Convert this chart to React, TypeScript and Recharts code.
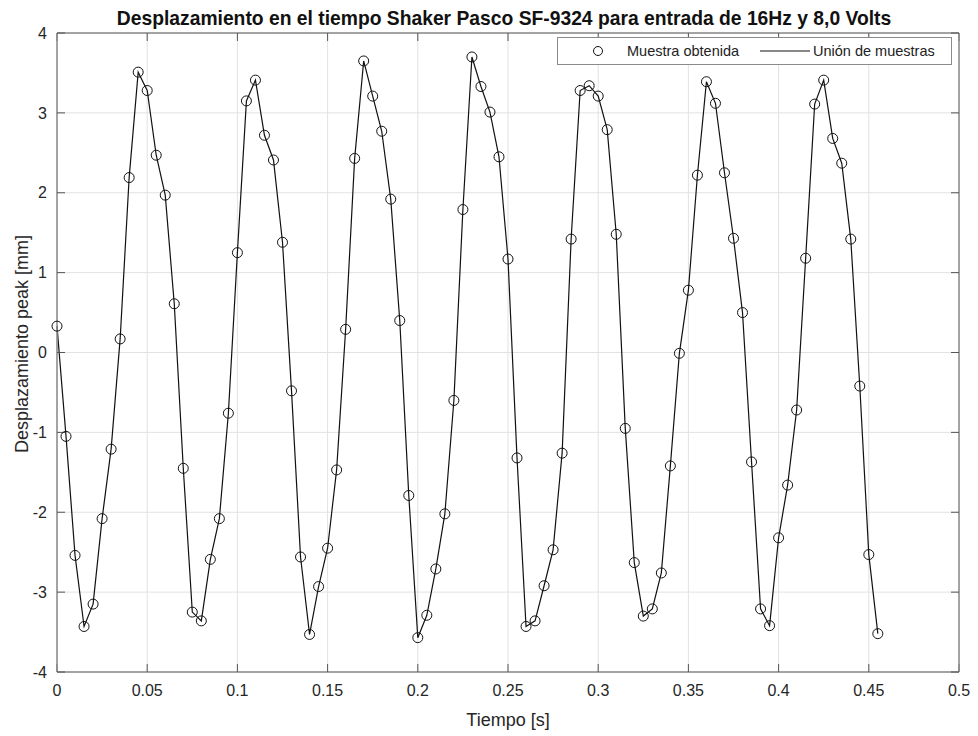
import { LineChart, Line, XAxis, YAxis, CartesianGrid } from 'recharts';

// tiempo de muestreo [s]
const tiempo = [
  0, 0.005, 0.01, 0.015, 0.02, 0.025, 0.03, 0.035, 0.04, 0.045,
  0.05, 0.055, 0.06, 0.065, 0.07, 0.075, 0.08, 0.085, 0.09, 0.095,
  0.1, 0.105, 0.11, 0.115, 0.12, 0.125, 0.13, 0.135, 0.14, 0.145,
  0.15, 0.155, 0.16, 0.165, 0.17, 0.175, 0.18, 0.185, 0.19, 0.195,
  0.2, 0.205, 0.21, 0.215, 0.22, 0.225, 0.23, 0.235, 0.24, 0.245,
  0.25, 0.255, 0.26, 0.265, 0.27, 0.275, 0.28, 0.285, 0.29, 0.295,
  0.3, 0.305, 0.31, 0.315, 0.32, 0.325, 0.33, 0.335, 0.34, 0.345,
  0.35, 0.355, 0.36, 0.365, 0.37, 0.375, 0.38, 0.385, 0.39, 0.395,
  0.4, 0.405, 0.41, 0.415, 0.42, 0.425, 0.43, 0.435, 0.44, 0.445,
  0.45, 0.455,
];

// desplazamiento peak [mm]
const desplazamiento = [
  0.33, -1.05, -2.54, -3.43, -3.15, -2.08, -1.21, 0.17, 2.19, 3.51,
  3.28, 2.47, 1.97, 0.61, -1.45, -3.25, -3.36, -2.59, -2.08, -0.76,
  1.25, 3.15, 3.41, 2.72, 2.41, 1.38, -0.48, -2.56, -3.53, -2.93,
  -2.45, -1.47, 0.29, 2.43, 3.65, 3.21, 2.77, 1.92, 0.4, -1.79,
  -3.57, -3.29, -2.71, -2.02, -0.6, 1.79, 3.7, 3.33, 3.01, 2.45,
  1.17, -1.32, -3.43, -3.36, -2.92, -2.47, -1.26, 1.42, 3.28, 3.34,
  3.21, 2.79, 1.48, -0.95, -2.63, -3.3, -3.21, -2.76, -1.42, -0.01,
  0.78, 2.22, 3.39, 3.12, 2.25, 1.43, 0.5, -1.37, -3.21, -3.42,
  -2.32, -1.66, -0.72, 1.18, 3.11, 3.41, 2.68, 2.37, 1.42, -0.42,
  -2.53, -3.52,
];

const xTicks = [0, 0.05, 0.1, 0.15, 0.2, 0.25, 0.3, 0.35, 0.4, 0.45, 0.5];
const yTicks = [-4, -3, -2, -1, 0, 1, 2, 3, 4];

const data = tiempo.map((t, i) => ({ t, y: desplazamiento[i] }));

const FONT = '"Liberation Sans", Arial, sans-serif';
const FRAME = '#8a8a8a';
const TICKMARK = '#555';
const TEXT = '#262626';
const TICK_IN = -8; // negative = tick marks drawn inside the box

// top / right axes only draw the box edge and the inward tick marks
const noLabel = () => <g />;

export default function App() {
  return (
    <div
      style={{
        position: 'absolute',
        left: 0,
        top: 0,
        width: 978,
        height: 736,
        background: '#fff',
        fontFamily: FONT,
        color: TEXT,
      }}
    >
      <LineChart width={978} height={736} data={data} margin={{ top: 33, right: 19, bottom: 0, left: 0 }}>
        <CartesianGrid stroke="#e2e2e2" strokeWidth={1} />
        <XAxis
          dataKey="t"
          type="number"
          domain={[0, 0.5]}
          ticks={xTicks}
          interval={0}
          height={64}
          tickSize={TICK_IN}
          tickMargin={21}
          axisLine={{ stroke: FRAME, strokeWidth: 1.5 }}
          tickLine={{ stroke: TICKMARK }}
          tick={{ fill: TEXT, fontSize: 16, fontFamily: FONT }}
        />
        <XAxis
          xAxisId="top"
          dataKey="t"
          orientation="top"
          type="number"
          domain={[0, 0.5]}
          ticks={xTicks}
          interval={0}
          mirror
          height={1}
          tickSize={8}
          tick={noLabel}
          axisLine={{ stroke: FRAME, strokeWidth: 1.5 }}
          tickLine={{ stroke: TICKMARK }}
        />
        <YAxis
          type="number"
          domain={[-4, 4]}
          ticks={yTicks}
          interval={0}
          width={57}
          tickSize={TICK_IN}
          tickMargin={18}
          axisLine={{ stroke: FRAME, strokeWidth: 1.5 }}
          tickLine={{ stroke: TICKMARK }}
          tick={{ fill: TEXT, fontSize: 16, fontFamily: FONT }}
        />
        <YAxis
          yAxisId="right"
          orientation="right"
          type="number"
          domain={[-4, 4]}
          ticks={yTicks}
          interval={0}
          mirror
          width={1}
          tickSize={8}
          tick={noLabel}
          axisLine={{ stroke: FRAME, strokeWidth: 1.5 }}
          tickLine={{ stroke: TICKMARK }}
        />
        {/* invisible copy so the top/right box axes get a real scale */}
        <Line
          xAxisId="top"
          yAxisId="right"
          type="linear"
          dataKey="y"
          stroke="none"
          dot={false}
          activeDot={false}
          legendType="none"
          isAnimationActive={false}
        />
        <Line
          type="linear"
          dataKey="y"
          stroke="#111"
          strokeWidth={1.2}
          dot={{ r: 5, fill: 'none', stroke: '#111', strokeWidth: 1 }}
          isAnimationActive={false}
        />
      </LineChart>

      <div
        style={{
          position: 'absolute',
          left: 504,
          top: 9,
          transform: 'translateX(-50%)',
          fontSize: 19.3,
          lineHeight: '19px',
          fontWeight: 'bold',
          color: '#111',
          whiteSpace: 'nowrap',
        }}
      >
        Desplazamiento en el tiempo Shaker Pasco SF-9324 para entrada de 16Hz y 8,0 Volts
      </div>

      <div
        style={{
          position: 'absolute',
          left: 508,
          top: 720,
          transform: 'translate(-50%, -50%)',
          fontSize: 18,
          lineHeight: '18px',
          whiteSpace: 'nowrap',
        }}
      >
        Tiempo [s]
      </div>

      <div
        style={{
          position: 'absolute',
          left: 22,
          top: 344,
          transform: 'translate(-50%, -50%) rotate(-90deg)',
          fontSize: 18,
          lineHeight: '18px',
          whiteSpace: 'nowrap',
        }}
      >
        Desplazamiento peak [mm]
      </div>

      <div
        style={{
          position: 'absolute',
          left: 557,
          top: 37,
          width: 395,
          height: 28,
          boxSizing: 'border-box',
          border: `1px solid ${FRAME}`,
          background: '#fff',
          fontSize: 14.5,
          color: '#222',
        }}
      >
        <svg width={14} height={14} style={{ position: 'absolute', left: 33, top: 6 }}>
          <circle cx={7} cy={7} r={4.5} fill="none" stroke="#111" strokeWidth={1} />
        </svg>
        <span style={{ position: 'absolute', left: 69, top: 5, whiteSpace: 'nowrap' }}>Muestra obtenida</span>
        <svg width={50} height={14} style={{ position: 'absolute', left: 202, top: 6 }}>
          <line x1={0} y1={7} x2={50} y2={7} stroke="#111" strokeWidth={1.2} />
        </svg>
        <span style={{ position: 'absolute', left: 255, top: 5, whiteSpace: 'nowrap' }}>Unión de muestras</span>
      </div>
    </div>
  );
}
